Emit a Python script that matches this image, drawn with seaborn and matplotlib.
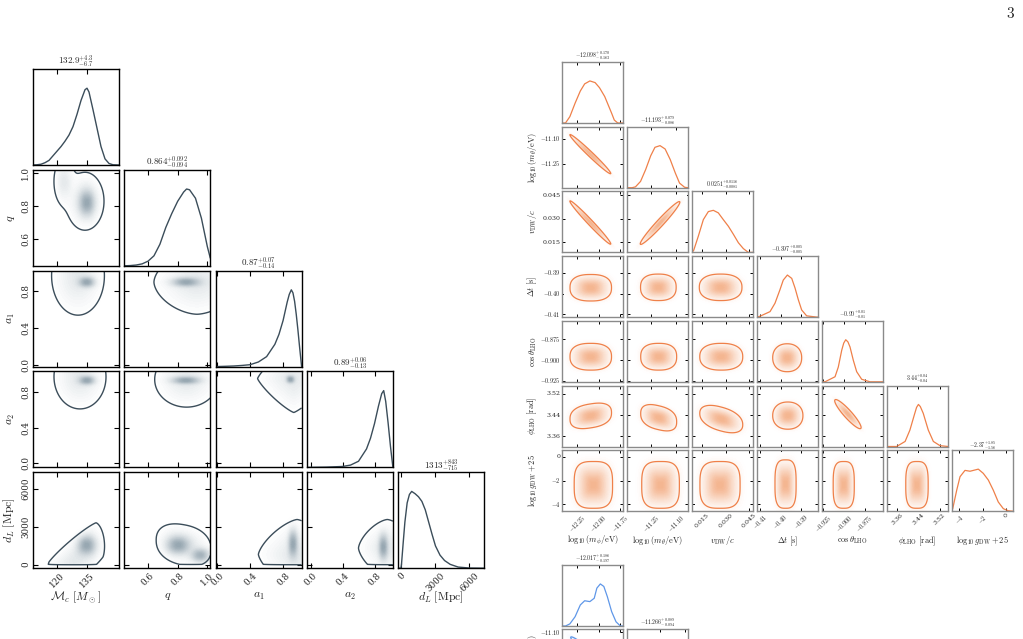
import numpy as np
import matplotlib
matplotlib.use("Agg")
import matplotlib.pyplot as plt
import seaborn as sns
from matplotlib.colors import LinearSegmentedColormap

sns.set_theme(style="ticks")
plt.rcParams["font.family"] = ["DejaVu Serif"]
plt.rcParams["mathtext.fontset"] = "cm"

# ---------------- left corner: GW event parameters ----------------
gw_labels = [r"$\mathcal{M}_c\ [M_\odot]$", r"$q$", r"$a_1$", r"$a_2$", r"$d_L\ [\mathrm{Mpc}]$"]
gw_titles = [r"$132.9^{+4.3}_{-6.7}$", r"$0.864^{+0.092}_{-0.094}$", r"$0.87^{+0.07}_{-0.14}$",
             r"$0.89^{+0.06}_{-0.13}$", r"$1313^{+843}_{-715}$"]
gw_ranges = [(108, 151), (0.44, 1.02), (-0.02, 1.025), (-0.045, 1.03), (-290, 7300)]
gw_ticks = [[120, 135], [0.6, 0.8, 1.0], [0.0, 0.4, 0.8], [0.0, 0.4, 0.8], [0, 3000, 6000]]
gw_ticklabels = [["120", "135"], ["0.6", "0.8", "1.0"], ["0.0", "0.4", "0.8"],
                 ["0.0", "0.4", "0.8"], ["0", "3000", "6000"]]

# 1d marginals (peak normalised)
mc_x = [108, 110, 112, 114, 116, 118, 120, 122, 124, 126, 128, 130, 132, 134, 135, 136, 138, 140, 142, 144, 146, 148, 151]
mc_y = [0, 0.003, 0.01, 0.03, 0.06, 0.12, 0.18, 0.24, 0.31, 0.39, 0.50, 0.66, 0.84, 0.98, 1.0, 0.95, 0.72, 0.48, 0.24, 0.08, 0.02, 0.003, 0]
q_x = [0.44, 0.48, 0.52, 0.56, 0.60, 0.64, 0.68, 0.72, 0.76, 0.80, 0.84, 0.86, 0.88, 0.92, 0.96, 1.00, 1.02]
q_y = [0, 0.003, 0.01, 0.025, 0.06, 0.13, 0.28, 0.50, 0.68, 0.84, 0.96, 1.0, 0.99, 0.88, 0.62, 0.25, 0.10]
a1_x = [-0.02, 0.1, 0.2, 0.3, 0.4, 0.5, 0.6, 0.7, 0.75, 0.8, 0.85, 0.875, 0.9, 0.92, 0.94, 0.96, 0.98, 1.0, 1.025]
a1_y = [0, 0.004, 0.008, 0.015, 0.025, 0.06, 0.13, 0.29, 0.42, 0.60, 0.84, 0.94, 1.0, 0.96, 0.85, 0.68, 0.48, 0.26, 0.0]
a2_x = [-0.045, 0.2, 0.4, 0.5, 0.6, 0.7, 0.75, 0.8, 0.85, 0.89, 0.915, 0.94, 0.97, 1.0, 1.03]
a2_y = [0, 0.004, 0.012, 0.03, 0.08, 0.24, 0.38, 0.57, 0.80, 0.96, 1.0, 0.86, 0.58, 0.27, 0.0]
dl_x = [-290, -50, 0, 150, 300, 500, 700, 900, 1200, 1500, 1800, 2100, 2400, 2700, 3000, 3400, 3800, 4300, 5000, 6000, 7300]
dl_y = [0, 0, 0.05, 0.33, 0.60, 0.85, 0.96, 1.0, 0.97, 0.93, 0.87, 0.76, 0.60, 0.44, 0.29, 0.17, 0.10, 0.05, 0.015, 0.002, 0]

# 2d panels: contour shapes, either (cx, cy, half-width x, half-width y, power, slope)
# or (cx, cy, ax, ay, bx, by, power) for a shape spanned by two edge vectors;
# dark spots (x, y, sx, sy); d_L cannot go below zero
mc_q = {"shapes": [(134, 0.83, 9.5, 0.175, 2, 0), (123.5, 0.95, 5.0, 0.14, 2, 0)],
        "spots": [(135, 0.82, 2.5, 0.05)]}
mc_a1 = {"shapes": [(130.5, 0.97, 13.2, 0.43, 2, 0)], "spots": [(135, 0.90, 2.5, 0.035)]}
q_a1 = {"shapes": [(0.93, 0.90, 0.29, 0.35, 1.7, 0)], "spots": [(0.855, 0.90, 0.06, 0.03)]}
mc_a2 = {"shapes": [(131.5, 0.97, 13.0, 0.36, 2, 0)], "spots": [(135, 0.93, 2.5, 0.03)]}
q_a2 = {"shapes": [(0.86, 0.94, 0.215, 0.31, 2, 0)], "spots": [(0.855, 0.93, 0.06, 0.025)]}
a1_a2 = {"shapes": [(0.93, 0.95, 0.44, 0.38, 1.2, 0)], "spots": [(0.89, 0.94, 0.03, 0.025)]}
mc_dl = {"shapes": [(129.5, 400, 13.5, 200, 10, 2900, 1.3)], "spots": [(135, 1540, 3, 500)], "ymin": 0}
q_dl = {"shapes": [(0.84, 1550, 0.185, 1600, 2.3, -2000)],
        "spots": [(0.80, 1540, 0.05, 450), (0.955, 730, 0.04, 350)], "ymin": 0}
a1_dl = {"shapes": [(0.97, 800, 0.47, 2760, 1.4, 0)], "spots": [(0.92, 1680, 0.035, 700)], "ymin": 0}
a2_dl = {"shapes": [(0.96, 1300, 0.36, 2260, 1.5, 0)], "spots": [(0.91, 1400, 0.035, 650)], "ymin": 0}

# ---------------- right corner: dark-matter domain wall fit ----------------
dw_labels = [r"$\log_{10}(m_\phi/\mathrm{eV})$", r"$\log_{10}(m_\theta/\mathrm{eV})$", r"$v_\mathrm{DW}/c$",
             r"$\Delta t\ [\mathrm{s}]$", r"$\cos\theta_\mathrm{LHO}$", r"$\phi_\mathrm{LHO}\ [\mathrm{rad}]$",
             r"$\log_{10} g_\mathrm{DW}+25$"]
dw_titles = [r"$-12.098^{+0.170}_{-0.163}$", r"$-11.193^{+0.079}_{-0.086}$", r"$0.0251^{+0.0116}_{-0.0081}$",
             r"$-0.397^{+0.005}_{-0.005}$", r"$-0.90^{+0.01}_{-0.01}$", r"$3.44^{+0.04}_{-0.04}$",
             r"$-2.37^{+1.85}_{-1.56}$"]
dw_ranges = [(-12.42, -11.72), (-11.39, -11.03), (0.0084, 0.0476), (-0.4114, -0.3819),
             (-0.926, -0.853), (3.322, 3.551), (-4.6, 0.57)]
dw_ticks = [[-12.25, -12.0, -11.75], [-11.25, -11.10], [0.015, 0.030, 0.045], [-0.41, -0.40, -0.39],
            [-0.925, -0.900, -0.875], [3.36, 3.44, 3.52], [-4, -2, 0]]
dw_ticklabels = [["$-12.25$", "$-12.00$", "$-11.75$"], ["$-11.25$", "$-11.10$"], ["0.015", "0.030", "0.045"],
                 ["$-0.41$", "$-0.40$", "$-0.39$"], ["$-0.925$", "$-0.900$", "$-0.875$"],
                 ["3.36", "3.44", "3.52"], ["$-4$", "$-2$", "0"]]

mphi_x = [-12.42, -12.38, -12.33, -12.27, -12.21, -12.16, -12.10, -12.04, -11.99, -11.93, -11.89, -11.85, -11.82, -11.78, -11.72]
mphi_y = [0, 0, 0.15, 0.47, 0.76, 0.93, 1.0, 0.96, 0.84, 0.63, 0.43, 0.23, 0.07, 0, 0]
mth_x = [-11.39, -11.36, -11.34, -11.31, -11.28, -11.25, -11.225, -11.195, -11.165, -11.135, -11.105, -11.08, -11.05, -11.03]
mth_y = [0, 0, 0.02, 0.15, 0.43, 0.76, 0.96, 1.0, 0.92, 0.67, 0.35, 0.11, 0.01, 0]
vdw_x = [0.0084, 0.0095, 0.0125, 0.0157, 0.0189, 0.0221, 0.0253, 0.0285, 0.0318, 0.035, 0.0382, 0.0414, 0.0446, 0.0476]
vdw_y = [0, 0.05, 0.39, 0.78, 0.97, 1.0, 0.94, 0.78, 0.62, 0.43, 0.23, 0.09, 0.0, 0]
dt_x = [-0.4114, -0.410, -0.4051, -0.4027, -0.4003, -0.3987, -0.3967, -0.3946, -0.393, -0.3914, -0.3898, -0.3874, -0.3825, -0.3819]
dt_y = [0, 0.02, 0.13, 0.33, 0.65, 0.88, 1.0, 0.92, 0.69, 0.41, 0.17, 0.03, 0, 0]
cos_x = [-0.926, -0.9224, -0.9104, -0.9065, -0.9024, -0.900, -0.8976, -0.895, -0.8925, -0.8885, -0.8845, -0.8785, -0.8686, -0.853]
cos_y = [0, 0, 0.12, 0.35, 0.75, 0.92, 1.0, 0.95, 0.83, 0.51, 0.24, 0.06, 0, 0]
phi_x = [3.322, 3.358, 3.39, 3.408, 3.4245, 3.433, 3.44, 3.447, 3.458, 3.477, 3.496, 3.521, 3.551]
phi_y = [0, 0, 0.12, 0.39, 0.75, 0.93, 1.0, 0.95, 0.79, 0.39, 0.12, 0.02, 0]
logg_x = [-4.6, -4.54, -4.2, -3.92, -3.5, -3.07, -2.65, -2.37, -1.95, -1.52, -1.1, -0.68, -0.25, 0.17, 0.57]
logg_y = [0.02, 0.06, 0.50, 0.82, 0.97, 0.95, 0.98, 1.0, 0.90, 0.74, 0.50, 0.22, 0.06, 0.01, 0]

# contour shapes per row (cx, cy, hx, hy, power, slope)
dw_row1 = [(-12.095, -11.192, 0.235, 0.020, 2, -0.485)]
dw_row2 = [(-12.095, 0.0276, 0.235, 0.0024, 2, -0.0584), (-11.195, 0.0273, 0.117, 0.0032, 2, 0.1145)]
dw_row3 = [(-12.09, -0.3972, 0.238, 0.0064, 2.5, 0), (-11.205, -0.397, 0.105, 0.0064, 2.5, 0),
           (0.0268, -0.397, 0.0137, 0.0064, 2.4, 0)]
dw_row4 = [(-12.09, -0.896, 0.238, 0.016, 2.5, 0), (-11.203, -0.896, 0.106, 0.016, 2.5, 0),
           (0.0272, -0.896, 0.0138, 0.016, 2.4, 0), (-0.3968, -0.8972, 0.007, 0.0167, 2.2, 0)]
dw_row5 = [(-12.09, 3.437, 0.238, 0.045, 2.5, 0.05), (-11.203, 3.43, 0.106, 0.045, 2.5, -0.146),
           (0.0272, 3.425, 0.0138, 0.045, 2.3, -1.54), (-0.3965, 3.438, 0.0073, 0.051, 2.2, 0),
           (-0.895, 3.4436, 0.0158, 0.0215, 2, -3.18)]
dw_row6 = [(-12.06, -2.37, 0.22, 1.98, 3.2, 0), (-11.192, -2.37, 0.111, 1.98, 3.2, 0),
           (0.0264, -2.37, 0.0129, 1.98, 3.2, 0), (-0.3976, -2.30, 0.0051, 2.05, 3.2, 0),
           (-0.900, -2.37, 0.0126, 1.98, 3.2, 0), (3.4345, -2.37, 0.042, 1.98, 3.2, 0)]

# ---------------- third corner (only its top is on this page) ----------------
b_labels = [r"$\log_{10}(m_\phi/\mathrm{eV})$", r"$\log_{10}(m_\theta/\mathrm{eV})$"]
b_titles = [r"$-12.017^{+0.186}_{-0.197}$", r"$-11.266^{+0.089}_{-0.094}$"]
b_ranges = [(-12.42, -11.72), (-11.45, -11.08)]
b_ticks = [[-12.25, -12.0, -11.75], [-11.25, -11.10]]
b_ticklabels = [["$-12.25$", "$-12.00$", "$-11.75$"], ["$-11.25$", "$-11.10$"]]
bmphi_x = [-12.42, -12.38, -12.33, -12.27, -12.21, -12.16, -12.10, -12.05, -12.02, -11.98, -11.94, -11.90, -11.85, -11.80, -11.75, -11.72]
bmphi_y = [0, 0, 0.05, 0.22, 0.50, 0.60, 0.58, 0.66, 0.90, 1.0, 0.94, 0.70, 0.34, 0.10, 0, 0]
bmth_x = [-11.45, -11.40, -11.35, -11.30, -11.266, -11.23, -11.18, -11.13, -11.08]
bmth_y = [0, 0.10, 0.40, 0.85, 1.0, 0.90, 0.50, 0.15, 0]
b_row1 = [(-12.02, -11.266, 0.30, 0.03, 2, -0.45)]

W, H = 1023, 639
fig = plt.figure(figsize=(W / 100, H / 100), dpi=100)
fig.patch.set_facecolor("white")


def shape_field(X, Y, shapes):
    F = np.zeros_like(X)
    for s in shapes:
        if len(s) == 7:
            cx, cy, ax_, ay_, bx_, by_, p = s
            det = ax_ * by_ - bx_ * ay_
            dx, dy = X - cx, Y - cy
            u = (by_ * dx - bx_ * dy) / det
            v = (ax_ * dy - ay_ * dx) / det
        else:
            cx, cy, hx, hy, p, slope = s
            u = (X - cx) / hx
            v = (Y - cy - slope * (X - cx)) / hy
        d = (np.abs(u) ** p + np.abs(v) ** p) ** (1.0 / p)
        F = F + np.exp(-2.0 * d ** 2)
    return F


def draw_corner(c):
    n_last = c["last_row"]
    cmap = LinearSegmentedColormap.from_list("shade", ["white", c["shade"]])
    for i, j in c["cells"]:
        x = c["x0"] + j * c["dx"]
        y = c["y0"] + i * c["dy"]
        ax = fig.add_axes([x / W, 1 - (y + c["h"]) / H, c["w"] / W, c["h"] / H])
        xlo, xhi = c["ranges"][j]
        if i == j:
            gx, gy = c["margs"][j]
            sns.lineplot(x=gx, y=gy, ax=ax, color=c["line"], linewidth=c["lw"])
            ax.set_ylim(0, c["diag_top"])
            ax.set_yticks([])
            ax.set_title(c["titles"][j], fontsize=c["title_fs"], pad=c["title_pad"])
        else:
            ylo, yhi = c["ranges"][i]
            X, Y = np.meshgrid(np.linspace(xlo, xhi, 200), np.linspace(ylo, yhi, 200))
            pair = c["pairs"][(i, j)]
            F = shape_field(X, Y, pair["shapes"])
            S = c["base"] * F
            for sx, sy, wx, wy in pair.get("spots", []):
                S = S + np.exp(-0.5 * (((X - sx) / wx) ** 2 + ((Y - sy) / wy) ** 2))
            if "ymin" in pair:
                F = np.where(Y < pair["ymin"], 0.0, F)
                S = np.where(Y < pair["ymin"], 0.0, S)
            S = S / S.max()
            ax.contourf(X, Y, S, levels=np.linspace(0.03, 1.0001, 40), cmap=cmap)
            ax.contour(X, Y, F, levels=[np.exp(-2.0)], colors=c["line"], linewidths=c["lw"])
            ax.set_ylim(ylo, yhi)
            ax.set_yticks(c["ticks"][i])
            if j == 0:
                ax.set_yticklabels(c["ticklabels"][i], rotation=c["ytick_rot"], va="center")
                ax.set_ylabel(c["labels"][i], fontsize=c["label_fs"])
                ax.yaxis.set_label_coords(c["ylab_x"], 0.5)
            else:
                ax.set_yticklabels([])
        ax.set_xlim(xlo, xhi)
        ax.set_xticks(c["ticks"][j])
        if i == n_last:
            ax.set_xticklabels(c["ticklabels"][j], rotation=45, ha="center")
            ax.set_xlabel(c["labels"][j], fontsize=c["label_fs"])
            ax.xaxis.set_label_coords(0.5, c["xlab_y"])
        else:
            ax.set_xticklabels([])
            ax.set_xlabel("")
        if i == j or j != 0:
            ax.set_ylabel("")
        ax.tick_params(direction="in", length=c["tick_len"], width=c["tick_w"], color="black",
                       labelsize=c["tick_fs"], pad=c["pad"], top=True, bottom=True,
                       left=(i != j), right=(i != j))
        for sp in ax.spines.values():
            sp.set_color(c["frame"])
            sp.set_linewidth(c["frame_lw"])
        ax.set_facecolor("white")


gw_pairs = {(1, 0): mc_q, (2, 0): mc_a1, (2, 1): q_a1, (3, 0): mc_a2, (3, 1): q_a2, (3, 2): a1_a2,
            (4, 0): mc_dl, (4, 1): q_dl, (4, 2): a1_dl, (4, 3): a2_dl}
draw_corner(dict(
    cells=[(i, j) for i in range(5) for j in range(i + 1)], last_row=4,
    ranges=gw_ranges, ticks=gw_ticks, ticklabels=gw_ticklabels, labels=gw_labels, titles=gw_titles,
    margs=[(mc_x, mc_y), (q_x, q_y), (a1_x, a1_y), (a2_x, a2_y), (dl_x, dl_y)], pairs=gw_pairs,
    x0=33, y0=69, dx=91.3, dy=100.8, w=86, h=96,
    line="#3b4d5a", shade="#97a7b1", frame="black", frame_lw=1.0, lw=1.0,
    tick_len=3.5, tick_w=0.8, tick_fs=6.3, pad=2, label_fs=8.5, title_fs=6.5, title_pad=2.5,
    diag_top=1.25, base=0.35, ytick_rot=90, xlab_y=-0.22, ylab_x=-0.19))

dw_rows = [None, dw_row1, dw_row2, dw_row3, dw_row4, dw_row5, dw_row6]
dw_pairs = {(i, j): {"shapes": [dw_rows[i][j]]} for i in range(1, 7) for j in range(i)}
draw_corner(dict(
    cells=[(i, j) for i in range(7) for j in range(i + 1)], last_row=6,
    ranges=dw_ranges, ticks=dw_ticks, ticklabels=dw_ticklabels, labels=dw_labels, titles=dw_titles,
    margs=[(mphi_x, mphi_y), (mth_x, mth_y), (vdw_x, vdw_y), (dt_x, dt_y), (cos_x, cos_y),
           (phi_x, phi_y), (logg_x, logg_y)], pairs=dw_pairs,
    x0=562, y0=62, dx=65, dy=64.7, w=61, h=61,
    line="#ef8049", shade="#f4b590", frame="#8a8a8a", frame_lw=1.0, lw=0.9,
    tick_len=2.5, tick_w=0.7, tick_fs=4.5, pad=1, label_fs=6.0, title_fs=4.2, title_pad=1.5,
    diag_top=1.45, base=1.0, ytick_rot=0, xlab_y=-0.38, ylab_x=-0.38))

draw_corner(dict(
    cells=[(0, 0), (1, 0), (1, 1)], last_row=6,
    ranges=b_ranges, ticks=b_ticks, ticklabels=b_ticklabels, labels=b_labels, titles=b_titles,
    margs=[(bmphi_x, bmphi_y), (bmth_x, bmth_y)], pairs={(1, 0): {"shapes": b_row1}},
    x0=562, y0=565, dx=65, dy=64, w=61, h=61,
    line="#5f97e8", shade="#a9c6f0", frame="#8a8a8a", frame_lw=1.0, lw=0.9,
    tick_len=2.5, tick_w=0.7, tick_fs=4.5, pad=1, label_fs=6.0, title_fs=4.2, title_pad=1.5,
    diag_top=1.45, base=1.0, ytick_rot=0, xlab_y=-0.38, ylab_x=-0.38))

fig.text(1010 / W, 1 - 14 / H, "$3$", fontsize=11, ha="center", va="center")

fig.savefig("out.png", dpi=100, facecolor="white")
